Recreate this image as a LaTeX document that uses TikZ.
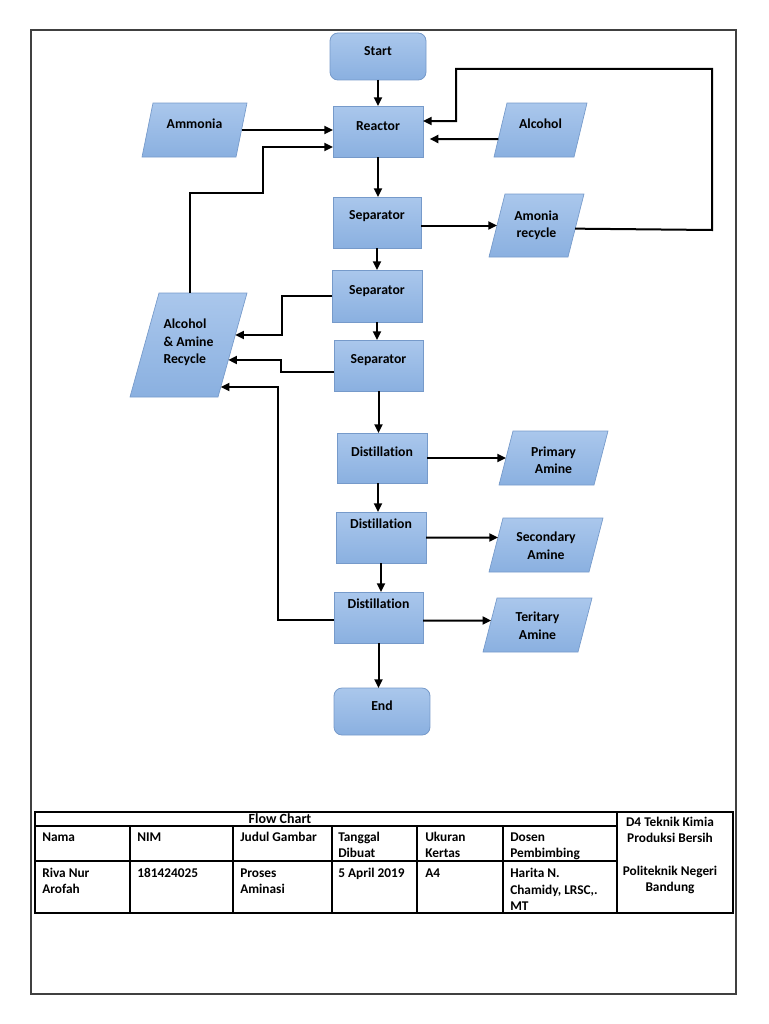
\documentclass[tikz,border=0pt]{standalone}
\usepackage{fontspec}
\setmainfont{Carlito}[Ligatures=NoCommon]
\usetikzlibrary{arrows.meta,calc}
\pgfdeclarelayer{background}
\pgfsetlayers{background,main}
\definecolor{boxtop}{RGB}{170,199,236}
\definecolor{boxbot}{RGB}{138,176,224}
\definecolor{boxline}{RGB}{118,154,202}
\begin{document}
\begin{tikzpicture}[x=0.75pt,y=-0.75pt,
  procbox/.style 2 args={draw=boxline, line width=0.6pt, top color=boxtop, bottom color=boxbot,
    minimum width=#1*0.75pt, minimum height=#2*0.75pt, inner sep=0pt, outer sep=0pt},
  termbox/.style 2 args={procbox={#1}{#2}, rounded corners=6pt},
  iobox/.style 2 args={rectangle, minimum width=#1*0.75pt, minimum height=#2*0.75pt, inner sep=0pt, outer sep=0pt},
  iofill/.style={draw=boxline, line width=0.5pt, top color=boxtop, bottom color=boxbot},
  lbl/.style={font=\bfseries\fontsize{10.3}{13}\selectfont, text=black, align=center},
  arr/.style={-{Triangle[length=6.5pt,width=6pt]}, line width=1.5pt, black},
  tbl/.style={line width=0.8pt, black},
  ttext/.style={font=\bfseries\fontsize{10}{12}\selectfont, inner sep=0pt, align=left, anchor=north west},
]
\useasboundingbox (0,0) rectangle (768,1024);
% outer frame
\draw[line width=1pt, black!75] (31,30) rectangle (736,994);

% process boxes
\node[termbox={96}{47}, label={[lbl,yshift=4pt]center:Start}] (start) at (378,56.5) {};
\node[procbox={90}{51}, label={[lbl,yshift=4pt]center:Reactor}] (reactor) at (378,131.5) {};
\node[procbox={88}{51}, label={[lbl,yshift=5pt]center:Separator}] (sep1) at (377,222.5) {};
\node[procbox={90}{52}, label={[lbl,yshift=4pt]center:Separator}] (sep2) at (377,296) {};
\node[procbox={89}{51}, label={[lbl,yshift=4pt]center:Separator}] (sep3) at (378.5,365.5) {};
\node[procbox={90}{50}, label={[lbl,yshift=4.5pt]center:Distillation}] (dist1) at (382,458) {};
\node[procbox={90}{51}, label={[lbl,yshift=10pt]center:Distillation}] (dist2) at (381,537.5) {};
\node[procbox={89}{51}, label={[lbl,yshift=10pt]center:Distillation}] (dist3) at (378.5,617.5) {};
\node[termbox={96}{47}, label={[lbl,yshift=4pt]center:End}] (end) at (382,711.5) {};

% input / output (parallelograms drawn on the background layer)
\node[iobox={105}{54}, label={[lbl,yshift=4.5pt]center:Ammonia}] (ammonia) at (194.5,130) {};
\node[iobox={93}{54}, label={[lbl,yshift=4.5pt]center:Alcohol}] (alcohol) at (540.5,130) {};
\node[iobox={95}{63}, label={[lbl]center:Amonia\\recycle}] (amrec) at (536.5,225.5) {};
\node[iobox={117}{104}, label={[lbl,align=left,yshift=2pt]center:Alcohol\\\& Amine\\Recycle}] (aarec) at (188.5,345) {};
\node[iobox={109}{54}, label={[lbl,yshift=-1.5pt]center:Primary\\Amine}] (primary) at (553.5,458) {};
\node[iobox={114}{54}, label={[lbl,yshift=-0.5pt]center:Secondary\\Amine}] (secondary) at (546,545) {};
\node[iobox={109}{54}, label={[lbl,yshift=-0.5pt]center:Teritary\\Amine}] (tertiary) at (537.5,625) {};
\foreach \n/\s in {ammonia/11,alcohol/13,amrec/16,aarec/29,primary/14,secondary/14,tertiary/14}{
  \coordinate (\n-tl) at ($(\n.north west)+(\s,0)$);
  \coordinate (\n-br) at ($(\n.south east)+(-\s,0)$);
  \begin{pgfonlayer}{background}
    \shadedraw[iofill] (\n.south west) -- (\n-tl) -- (\n.north east) -- (\n-br) -- cycle;
  \end{pgfonlayer}
}

% connectors
\draw[arr] (start.south) -- (reactor.north);
\draw[arr] ($(ammonia.north east)!0.5!(ammonia-br)$) -- (reactor.west |- ammonia.east);
\draw[arr] ($(aarec-tl)!0.35!(aarec.north east)$) |- (263,193) |- ($(reactor.west)+(0,15.5)$);
\draw[arr, shorten >=5pt] ($(alcohol.south west)!0.333!(alcohol-tl)$) -- ($(reactor.east)+(0,7.5)$);
\draw[arr] ($(amrec.north east)!0.55!(amrec-br)$) -- (712,230) -- (712,69) -- (456,69) |- ($(reactor.east)+(0,-10.5)$);
\draw[arr] (reactor.south) -- (reactor.south |- sep1.north);
\draw[arr] (sep1.east |- amrec.west) -- ($(amrec.south west)!0.5!(amrec-tl)$);
\draw[arr] (sep1.south) -- (sep1.south |- sep2.north);
\draw[arr] (sep2.south) -- (sep2.south |- sep3.north);
\draw[arr] (sep2.west) -- ++(-50,0) |- ($(aarec.north east)!0.404!(aarec-br)$);
\draw[arr] ($(sep3.west)+(0,6.5)$) -- ++(-53,0) |- ($(aarec.north east)!0.644!(aarec-br)$);
\draw[arr] ($(dist3.west)+(0,2.5)$) -- ++(-56,0) |- ($(aarec.north east)!0.904!(aarec-br)$);
\draw[arr] (sep3.south) -- (sep3.south |- dist1.north);
\draw[arr] ($(dist1.south)+(-4,0)$) -- ($(dist2.north)+(-3,0)$);
\draw[arr] (dist2.south) -- (dist2.south |- dist3.north);
\draw[arr] (dist3.south) -- (dist3.south |- end.north);
\draw[arr] (dist1.east) -- ($(primary.south west)!0.5!(primary-tl)$);
\draw[arr] (dist2.east) -- ($(secondary.south west)!0.639!(secondary-tl)$);
\draw[arr] ($(dist3.east)+(0,3)$) -- ($(tertiary.south west)!0.583!(tertiary-tl)$);

% title block table
\draw[tbl, line width=1.1pt] (35,812) rectangle (733,913);
\draw[tbl] (35,826) -- (617,826);
\draw[tbl] (35,861) -- (617,861);
\draw[tbl] (617,812) -- (617,913);
\foreach \cx in {130,233,332,417,503} \draw[tbl] (\cx,826) -- (\cx,913);

\node[font=\bfseries\fontsize{10.5}{12}\selectfont, inner sep=0pt, anchor=base] (tflow) at (280,823.5) {Flow Chart};
\node[ttext] (hnama) at (42,830.5) {\strut Nama};
\node[ttext] (hnim) at (137,830.5) {\strut NIM};
\node[ttext] (hjudul) at (240,830.5) {\strut Judul Gambar};
\node[ttext] (htgl) at (338,830.5) {\strut Tanggal\\Dibuat};
\node[ttext] (hukuran) at (425,830.5) {\strut Ukuran\\Kertas};
\node[ttext] (hdosen) at (510,830.5) {\strut Dosen\\Pembimbing};
\node[ttext] (dnama) at (42,866) {\strut Riva Nur\\Arofah};
\node[ttext] (dnim) at (137,866) {\strut 181424025};
\node[ttext] (djudul) at (240,866) {\strut Proses\\Aminasi};
\node[ttext] (dtgl) at (338,866) {\strut 5 April 2019};
\node[ttext] (dukuran) at (425,866) {\strut A4};
\node[ttext, font=\bfseries\fontsize{10}{12.3}\selectfont] (ddosen) at (510,866) {\strut Harita N.\\Chamidy, LRSC,.\\MT};
\node[ttext, align=center, anchor=north, font=\bfseries\fontsize{10}{12.3}\selectfont] (inst) at (670,814.5) {\strut D4 Teknik Kimia\\Produksi Bersih\\\mbox{}\\Politeknik Negeri\\Bandung};
\end{tikzpicture}
\end{document}
